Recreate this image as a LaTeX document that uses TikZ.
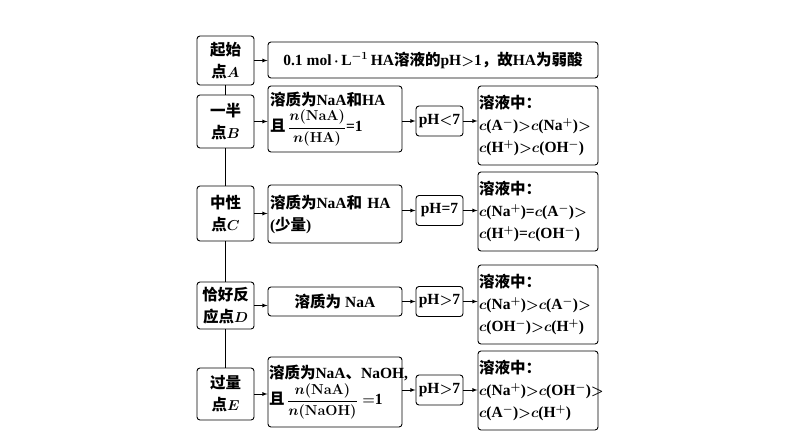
\documentclass[tikz,border=0pt]{standalone}
\usepackage{amsmath}
\usepackage{fontspec}
\setmainfont{Liberation Serif}
\newfontfamily\cjk{Noto Sans CJK SC}
\usetikzlibrary{calc}
\newcommand{\zh}[1]{{\cjk #1}}
\begin{document}
\begin{tikzpicture}[x=1pt,y=-1pt,
    bx/.style={draw=black,rounded corners=3pt,line width=0.9pt,align=center,inner sep=2pt,
      font=\fontsize{15.5}{22}\selectfont\bfseries\boldmath},
    bxl/.style={bx,align=left},
    arr/.style={-latex,line width=0.8pt}]
    \useasboundingbox (0,0) rectangle (794,447);
    %left column
    \node[bx,minimum width=57,minimum height=49] (A) at (225.5,60.5) {\zh{起始}\\\zh{点}$A$};
    \node[bx,minimum width=57,minimum height=53] (B) at (225.5,121.5) {\zh{一半}\\\zh{点}$B$};
    \node[bx,minimum width=57,minimum height=55] (C) at (225.5,213.5) {\zh{中性}\\\zh{点}$C$};
    \node[bx,minimum width=57,minimum height=47] (D) at (225.5,305.5) {\zh{恰好反}\\\zh{应点}$D$};
    \node[bx,minimum width=57,minimum height=52] (E) at (225.5,394) {\zh{过量}\\\zh{点}$E$};
    %level 1
    \node[bx,minimum width=330,minimum height=36,inner sep=0pt] (A1) at (433,60) {0.1 mol\,$\cdot$\,L$^{-1}$\,HA\zh{溶液的}pH$>$1\zh{，故}HA\zh{为弱酸}};
    \node[bxl,minimum width=134,minimum height=66,text width=130,inner sep=1pt] (B1) at (335,119) {\zh{溶质为}NaA\zh{和}HA\\[2pt]\zh{且}\,$\dfrac{n(\mathbf{NaA})}{n(\mathbf{HA})}$=1};
    \node[bxl,minimum width=134,minimum height=58,text width=130,inner sep=1pt] (C1) at (335,214) {\zh{溶质为}NaA\zh{和} HA\\(\zh{少量})\\[-4pt]};
    \node[bx,minimum width=134,minimum height=29] (D1) at (335,301.5) {\zh{溶质为} NaA};
    \node[bxl,minimum width=134,minimum height=70,text width=132,inner sep=1pt] (E1) at (335,392) {\zh{溶质为}NaA\zh{、}NaOH,\\[2pt]\zh{且}\,$\dfrac{n(\mathbf{NaA})}{n(\mathbf{NaOH})}=$1};
    %level 2
    \node[bx,minimum width=47,minimum height=30,inner sep=1pt] (B2) at (439.5,121) {pH$<$7};
    \node[bx,minimum width=47,minimum height=30,inner sep=1pt] (C2) at (439.5,210.5) {pH=7};
    \node[bx,minimum width=47,minimum height=30,inner sep=1pt] (D2) at (439.5,301.5) {pH$>$7};
    \node[bx,minimum width=47,minimum height=30,inner sep=1pt] (E2) at (439.5,390) {pH$>$7};
    %level 3
    \node[bxl,minimum width=120,minimum height=79,text width=118,inner sep=1pt] (B3) at (538,125.5) {\zh{溶液中：}\\$c$(A$^-$)$>$$c$(Na$^+$)$>$\\$c$(H$^+$)$>$$c$(OH$^-$)};
    \node[bxl,minimum width=120,minimum height=79,text width=118,inner sep=1pt] (C3) at (538,211.5) {\zh{溶液中：}\\$c$(Na$^+$)=$c$(A$^-$)$>$\\$c$(H$^+$)=$c$(OH$^-$)};
    \node[bxl,minimum width=120,minimum height=79,text width=118,inner sep=1pt] (D3) at (538,304.5) {\zh{溶液中：}\\$c$(Na$^+$)$>$$c$(A$^-$)$>$\\$c$(OH$^-$)$>$$c$(H$^+$)};
    \node[bxl,minimum width=120,minimum height=79,text width=118,inner sep=1pt] (E3) at (538,390.5) {\zh{溶液中：}\\$c$(Na$^+$)$>$$c$(OH$^-$)$>$\\$c$(A$^-$)$>$$c$(H$^+$)};

    \draw[line width=0.8pt] (A) -- (B);
    \draw[line width=0.8pt] (B) -- (C);
    \draw[line width=0.8pt] (C) -- (D);
    \draw[line width=0.8pt] (D) -- (E);

    \draw[arr] (A) -- (A.east -| A1.west);
    \draw[arr] (B) -- (B.east -| B1.west);
    \draw[arr] (C) -- (C.east -| C1.west);
    \draw[arr] (D) -- (D.east -| D1.west);
    \draw[arr] (E) -- (E.east -| E1.west);

    \draw[arr] (B1.east |- B2) -- (B2);
    \draw[arr] (C1.east |- C2) -- (C2);
    \draw[arr] (D1) -- (D2);
    \draw[arr] (E1.east |- E2) -- (E2);

    \draw[arr] (B2) -- (B2 -| B3.west);
    \draw[arr] (C2) -- (C2 -| C3.west);
    \draw[arr] (D2) -- (D2 -| D3.west);
    \draw[arr] (E2) -- (E2 -| E3.west);
\end{tikzpicture}
\end{document}
